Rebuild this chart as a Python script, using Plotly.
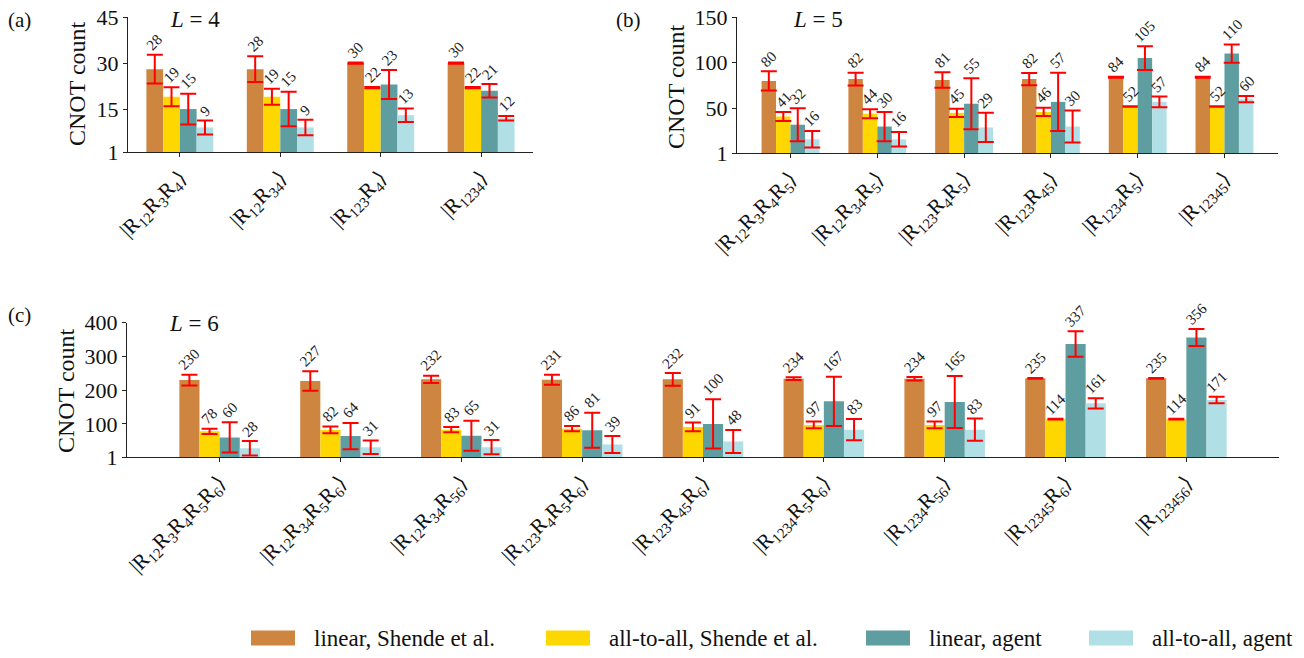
import plotly.graph_objects as go

PAGE_W, PAGE_H = 1304, 658
BODY_OFF = 8  # default page body margin
W, H = PAGE_W - BODY_OFF, PAGE_H - BODY_OFF
FONT = "Liberation Serif"

# ---------------- data ----------------
series_names = ["linear, Shende et al.", "all-to-all, Shende et al.", "linear, agent", "all-to-all, agent"]
series_colors = ["#CD853F", "#FFD700", "#5F9EA0", "#B0E0E6"]

# L = 4
cats_L4 = ["|R<sub>12</sub>R<sub>3</sub>R<sub>4</sub>⟩", "|R<sub>12</sub>R<sub>34</sub>⟩",
           "|R<sub>123</sub>R<sub>4</sub>⟩", "|R<sub>1234</sub>⟩"]
lin_shende_L4 = [28, 28, 30, 30]
a2a_shende_L4 = [19, 19, 22, 22]
lin_agent_L4 = [15, 15, 23, 21]
a2a_agent_L4 = [9, 9, 13, 12]
lin_shende_err_L4 = [4.7, 4.2, 0.2, 0.2]
a2a_shende_err_L4 = [3.1, 2.6, 0.2, 0.2]
lin_agent_err_L4 = [5.0, 5.6, 4.7, 2.2]
a2a_agent_err_L4 = [2.3, 2.5, 2.2, 0.7]

# L = 5
cats_L5 = ["|R<sub>12</sub>R<sub>3</sub>R<sub>4</sub>R<sub>5</sub>⟩", "|R<sub>12</sub>R<sub>34</sub>R<sub>5</sub>⟩",
           "|R<sub>123</sub>R<sub>4</sub>R<sub>5</sub>⟩", "|R<sub>123</sub>R<sub>45</sub>⟩",
           "|R<sub>1234</sub>R<sub>5</sub>⟩", "|R<sub>12345</sub>⟩"]
lin_shende_L5 = [80, 82, 81, 82, 84, 84]
a2a_shende_L5 = [41, 44, 45, 46, 52, 52]
lin_agent_L5 = [32, 30, 55, 57, 105, 110]
a2a_agent_L5 = [16, 16, 29, 30, 57, 60]
lin_shende_err_L5 = [10.5, 7, 8.5, 6.7, 0.5, 0.5]
a2a_shende_err_L5 = [5, 5, 4.5, 4.5, 0.3, 0.3]
lin_agent_err_L5 = [18, 16, 28, 32, 13, 10]
a2a_agent_err_L5 = [9, 8, 16, 17.5, 6, 3.5]

# L = 6
cats_L6 = ["|R<sub>12</sub>R<sub>3</sub>R<sub>4</sub>R<sub>5</sub>R<sub>6</sub>⟩",
           "|R<sub>12</sub>R<sub>34</sub>R<sub>5</sub>R<sub>6</sub>⟩",
           "|R<sub>12</sub>R<sub>34</sub>R<sub>56</sub>⟩",
           "|R<sub>123</sub>R<sub>4</sub>R<sub>5</sub>R<sub>6</sub>⟩",
           "|R<sub>123</sub>R<sub>45</sub>R<sub>6</sub>⟩",
           "|R<sub>1234</sub>R<sub>5</sub>R<sub>6</sub>⟩",
           "|R<sub>1234</sub>R<sub>56</sub>⟩",
           "|R<sub>12345</sub>R<sub>6</sub>⟩",
           "|R<sub>123456</sub>⟩"]
lin_shende_L6 = [230, 227, 232, 231, 232, 234, 234, 235, 235]
a2a_shende_L6 = [78, 82, 83, 86, 91, 97, 97, 114, 114]
lin_agent_L6 = [60, 64, 65, 81, 100, 167, 165, 337, 356]
a2a_agent_L6 = [28, 31, 31, 39, 48, 83, 83, 161, 171]
lin_shende_err_L6 = [16, 29, 11, 15, 19, 4, 5, 1, 1]
a2a_shende_err_L6 = [8, 10, 8, 8, 13, 10, 10, 1, 1]
lin_agent_err_L6 = [45, 39, 44.5, 52, 73, 73, 77, 38, 25]
a2a_agent_err_L6 = [21.5, 20, 21, 25, 34, 31.5, 33, 15, 9.5]

yticks_L4 = [1, 15, 30, 45]
yticks_L5 = [1, 50, 100, 150]
yticks_L6 = [1, 100, 200, 300, 400]

# ---------------- layout helpers (page pixels -> paper fractions) ----------------
def fx(px):
    return (px - BODY_OFF) / W

def fy(py):
    return 1 - (py - BODY_OFF) / H

panels = [
    dict(suffix="", cats=cats_L4,
         vals=[lin_shende_L4, a2a_shende_L4, lin_agent_L4, a2a_agent_L4],
         errs=[lin_shende_err_L4, a2a_shende_err_L4, lin_agent_err_L4, a2a_agent_err_L4],
         xpx=(128, 533), ypx=(17, 152), yticks=yticks_L4,
         letter="(a)", letter_pos=(19, 20), Ltext="<i>L</i> = 4", L_pos=(195, 20),
         ylab_pos=(77, 84)),
    dict(suffix="2", cats=cats_L5,
         vals=[lin_shende_L5, a2a_shende_L5, lin_agent_L5, a2a_agent_L5],
         errs=[lin_shende_err_L5, a2a_shende_err_L5, lin_agent_err_L5, a2a_agent_err_L5],
         xpx=(737, 1278), ypx=(17, 153), yticks=yticks_L5,
         letter="(b)", letter_pos=(628, 20), Ltext="<i>L</i> = 5", L_pos=(818, 20),
         ylab_pos=(676, 87)),
    dict(suffix="3", cats=cats_L6,
         vals=[lin_shende_L6, a2a_shende_L6, lin_agent_L6, a2a_agent_L6],
         errs=[lin_shende_err_L6, a2a_shende_err_L6, lin_agent_err_L6, a2a_agent_err_L6],
         xpx=(127, 1279), ypx=(322.7, 457.3), yticks=yticks_L6,
         letter="(c)", letter_pos=(19, 315), Ltext="<i>L</i> = 6", L_pos=(194, 323),
         ylab_pos=(66, 391)),
]

fig = go.Figure()
annotations = []
shapes = []
nser = len(series_names)
bar_w = (2 / 3) / nser

for p in panels:
    s = p["suffix"]
    n = len(p["cats"])
    pos = list(range(n))
    for k in range(nser):
        fig.add_trace(go.Bar(
            x=pos, y=p["vals"][k], name=series_names[k],
            marker=dict(color=series_colors[k], line=dict(width=0)),
            error_y=dict(type="data", array=p["errs"][k], color="#ff0000", thickness=2, width=8),
            xaxis="x" + s, yaxis="y" + s, showlegend=False,
        ))
        off = (k - (nser - 1) / 2) * bar_w
        for i in range(n):
            v = p["vals"][k][i]
            e = p["errs"][k][i]
            annotations.append(dict(
                x=i + off, y=v + e, xref="x" + s, yref="y" + s,
                text=str(v), showarrow=False, textangle=-45,
                xanchor="center", yanchor="bottom", borderpad=0,
                font=dict(family=FONT, size=15, color="#222"),
            ))
    m = 0.05 * (n - 1 + 2 / 3)
    xr = [-1 / 3 - m, n - 1 + 1 / 3 + m]
    axx = dict(domain=[fx(p["xpx"][0]), fx(p["xpx"][1])], range=xr, automargin=False,
               tickmode="array", tickvals=pos, ticktext=p["cats"], tickangle=-45,
               showline=True, linecolor="#222", linewidth=1.2, ticks="outside",
               ticklen=4, tickcolor="#222", showgrid=False, zeroline=False,
               tickfont=dict(family=FONT, size=21, color="#111"),
               ticklabeloverflow="allow",
               anchor="y" + s, fixedrange=True)
    axy = dict(domain=[fy(p["ypx"][1]), fy(p["ypx"][0])], automargin=False,
               range=[p["yticks"][0], p["yticks"][-1]],
               tickmode="array", tickvals=p["yticks"], ticktext=[str(t) for t in p["yticks"]],
               showline=True, linecolor="#222", linewidth=1.2, ticks="outside",
               ticklen=4, tickcolor="#222", showgrid=False, zeroline=False,
               tickfont=dict(family=FONT, size=22, color="#111"),
               ticklabeloverflow="allow",
               anchor="x" + s, fixedrange=True)
    fig.update_layout(**{"xaxis" + s: axx, "yaxis" + s: axy})
    annotations.append(dict(x=fx(p["letter_pos"][0]), y=fy(p["letter_pos"][1]), xref="paper", yref="paper",
                            text=p["letter"], showarrow=False, xanchor="center", yanchor="middle",
                            font=dict(family=FONT, size=21, color="#111")))
    annotations.append(dict(x=fx(p["L_pos"][0]), y=fy(p["L_pos"][1]), xref="paper", yref="paper",
                            text=p["Ltext"], showarrow=False, xanchor="center", yanchor="middle",
                            font=dict(family=FONT, size=23, color="#111")))
    annotations.append(dict(x=fx(p["ylab_pos"][0]), y=fy(p["ylab_pos"][1]), xref="paper", yref="paper",
                            text="CNOT count", showarrow=False, textangle=-90,
                            xanchor="center", yanchor="middle",
                            font=dict(family=FONT, size=24, color="#111")))

# manual legend (bottom)
legend_patch_x = [251, 546, 866, 1089]
legend_y = 638
for k in range(nser):
    x0 = legend_patch_x[k]
    shapes.append(dict(type="rect", xref="paper", yref="paper",
                       x0=fx(x0), x1=fx(x0 + 44), y0=fy(legend_y + 7.5), y1=fy(legend_y - 7.5),
                       fillcolor=series_colors[k], line=dict(width=0)))
    annotations.append(dict(x=fx(x0 + 61), y=fy(legend_y), xref="paper", yref="paper",
                            text=series_names[k], showarrow=False, xanchor="left", yanchor="middle",
                            font=dict(family=FONT, size=23, color="#111")))

fig.update_layout(
    template="none",
    width=W, height=H, margin=dict(l=0, r=0, t=0, b=0, pad=0),
    paper_bgcolor="white", plot_bgcolor="white",
    barmode="group", bargap=1 / 3, bargroupgap=0,
    annotations=annotations, shapes=shapes,
    font=dict(family=FONT, color="#111"),
    showlegend=False,
)

fig.write_html("out.html")
